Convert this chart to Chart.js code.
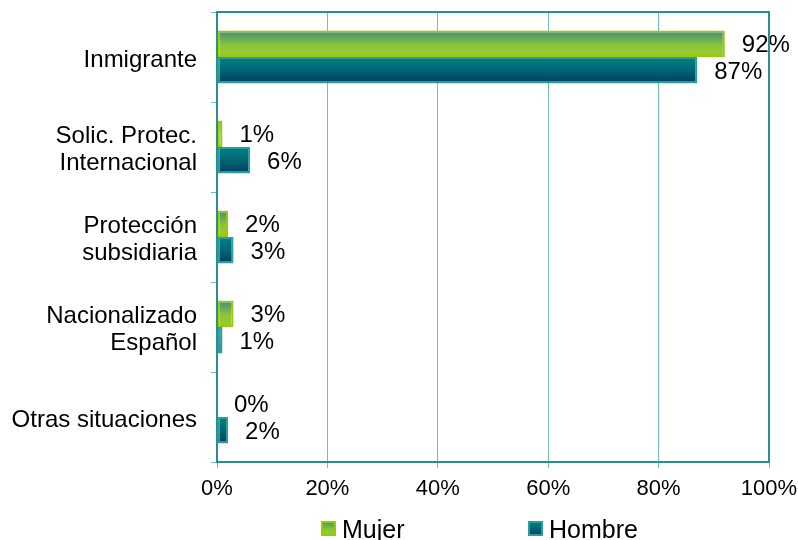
<!DOCTYPE html>
<html>
<head>
<meta charset="utf-8">
<script src="https://cdn.jsdelivr.net/npm/chart.js@4/dist/chart.umd.min.js"></script>
<style>
  html, body { margin: 0; padding: 0; background: #fff; }
  #chart { display: block; }
</style>
</head>
<body>
<canvas id="chart" width="798" height="540"></canvas>
<script>
const categories = [
  "Inmigrante",
  ["Solic. Protec.", "Internacional"],
  ["Protección", "subsidiaria"],
  ["Nacionalizado", "Español"],
  "Otras situaciones"
];
const mujer = [92, 1, 2, 3, 0];
const hombre = [87, 6, 3, 1, 2];
const xTicks = [0, 20, 40, 60, 80, 100];

const FONT = "'Liberation Sans', Arial, sans-serif";
const CAT_PCT = 0.59;

// vertical gradient for one bar, built from the y scale
function barGradient(ctx, stops) {
  const chart = ctx.chart;
  const y = chart.scales.y;
  if (!chart.chartArea || !y) return stops[stops.length - 1][1];
  const band = chart.chartArea.height / categories.length;
  const thick = band * CAT_PCT / 2;
  const center = y.getPixelForValue(ctx.dataIndex);
  const top = ctx.datasetIndex === 0 ? center - thick : center;
  const g = chart.ctx.createLinearGradient(0, top, 0, top + thick);
  stops.forEach(s => g.addColorStop(s[0], s[1]));
  return g;
}

const mujerStops = [[0, "#3d8984"], [0.55, "#8cc43a"], [1, "#9acd2a"]];
const hombreStops = [[0, "#008080"], [0.45, "#006a78"], [1, "#003a5e"]];

// === Value labels ===
const valueLabels = {
  id: "valueLabels",
  afterDatasetsDraw(chart) {
    const ctx = chart.ctx;
    ctx.save();
    ctx.font = "24px " + FONT;
    ctx.fillStyle = "#000";
    ctx.textAlign = "left";
    ctx.textBaseline = "middle";
    chart.data.datasets.forEach((ds, di) => {
      chart.getDatasetMeta(di).data.forEach((bar, i) => {
        ctx.fillText(ds.data[i] + "%", bar.x + 17, bar.y + 2);
      });
    });
    ctx.restore();
  }
};

// === Plot frame ===
const frame = {
  id: "frame",
  afterDraw(chart) {
    const a = chart.chartArea;
    const ctx = chart.ctx;
    ctx.save();
    ctx.strokeStyle = "#2a8f8f";
    ctx.lineWidth = 2;
    ctx.strokeRect(a.left, a.top, a.right - a.left, a.bottom - a.top);
    ctx.restore();
  }
};

// === Legend (bottom) ===
const legendItems = [
  { text: "Mujer", x: 321, stops: mujerStops, border: "#99cc00" },
  { text: "Hombre", x: 528, stops: hombreStops, border: "#2a9d9d" }
];
const bottomLegend = {
  id: "bottomLegend",
  afterDraw(chart) {
    const ctx = chart.ctx;
    ctx.save();
    legendItems.forEach(item => {
      const top = 521, size = 15;
      const g = ctx.createLinearGradient(0, top, 0, top + size);
      item.stops.forEach(s => g.addColorStop(s[0], s[1]));
      ctx.fillStyle = g;
      ctx.fillRect(item.x, top, size, size);
      ctx.strokeStyle = item.border;
      ctx.lineWidth = 2;
      ctx.strokeRect(item.x + 1, top + 1, size - 2, size - 2);
      ctx.fillStyle = "#000";
      ctx.font = "25px " + FONT;
      ctx.textBaseline = "alphabetic";
      ctx.fillText(item.text, item.x + 21, 538);
    });
    ctx.restore();
  }
};

new Chart(document.getElementById("chart"), {
  type: "bar",
  data: {
    labels: categories,
    datasets: [
      {
        label: "Mujer",
        data: mujer,
        backgroundColor: ctx => barGradient(ctx, mujerStops),
        borderColor: "#99cc00",
        borderWidth: 2,
        borderSkipped: false,
        categoryPercentage: CAT_PCT,
        barPercentage: 1
      },
      {
        label: "Hombre",
        data: hombre,
        backgroundColor: ctx => barGradient(ctx, hombreStops),
        borderColor: "#2a9d9d",
        borderWidth: 2,
        borderSkipped: false,
        categoryPercentage: CAT_PCT,
        barPercentage: 1
      }
    ]
  },
  options: {
    indexAxis: "y",
    responsive: false,
    animation: false,
    layout: { padding: { top: 12, right: 29, left: 0, bottom: 0 } },
    plugins: {
      legend: { display: false },
      tooltip: { enabled: false }
    },
    scales: {
      x: {
        min: 0,
        max: 100,
        afterBuildTicks: scale => { scale.ticks = xTicks.map(v => ({ value: v })); },
        afterFit: scale => {
          scale.height = 78;
          scale.paddingLeft = 0;
          scale.paddingRight = 0;
        },
        ticks: {
          callback: v => v + "%",
          color: "#000",
          padding: 8,
          font: { family: FONT, size: 22 },
          maxRotation: 0
        },
        grid: { color: "#6fbfbf", lineWidth: 1, tickLength: 6, drawTicks: true },
        border: { color: "#2a8f8f", width: 2 }
      },
      y: {
        afterFit: scale => {
          scale.width = 217;
          scale.paddingTop = 0;
          scale.paddingBottom = 0;
        },
        ticks: {
          color: "#000",
          padding: 14,
          labelOffset: 3,
          font: { family: FONT, size: 24, lineHeight: 1.15 }
        },
        grid: { drawOnChartArea: false, color: "#6fbfbf", tickLength: 6, offset: true },
        border: { color: "#2a8f8f", width: 2 }
      }
    }
  },
  plugins: [valueLabels, frame, bottomLegend]
});
</script>
</body>
</html>
